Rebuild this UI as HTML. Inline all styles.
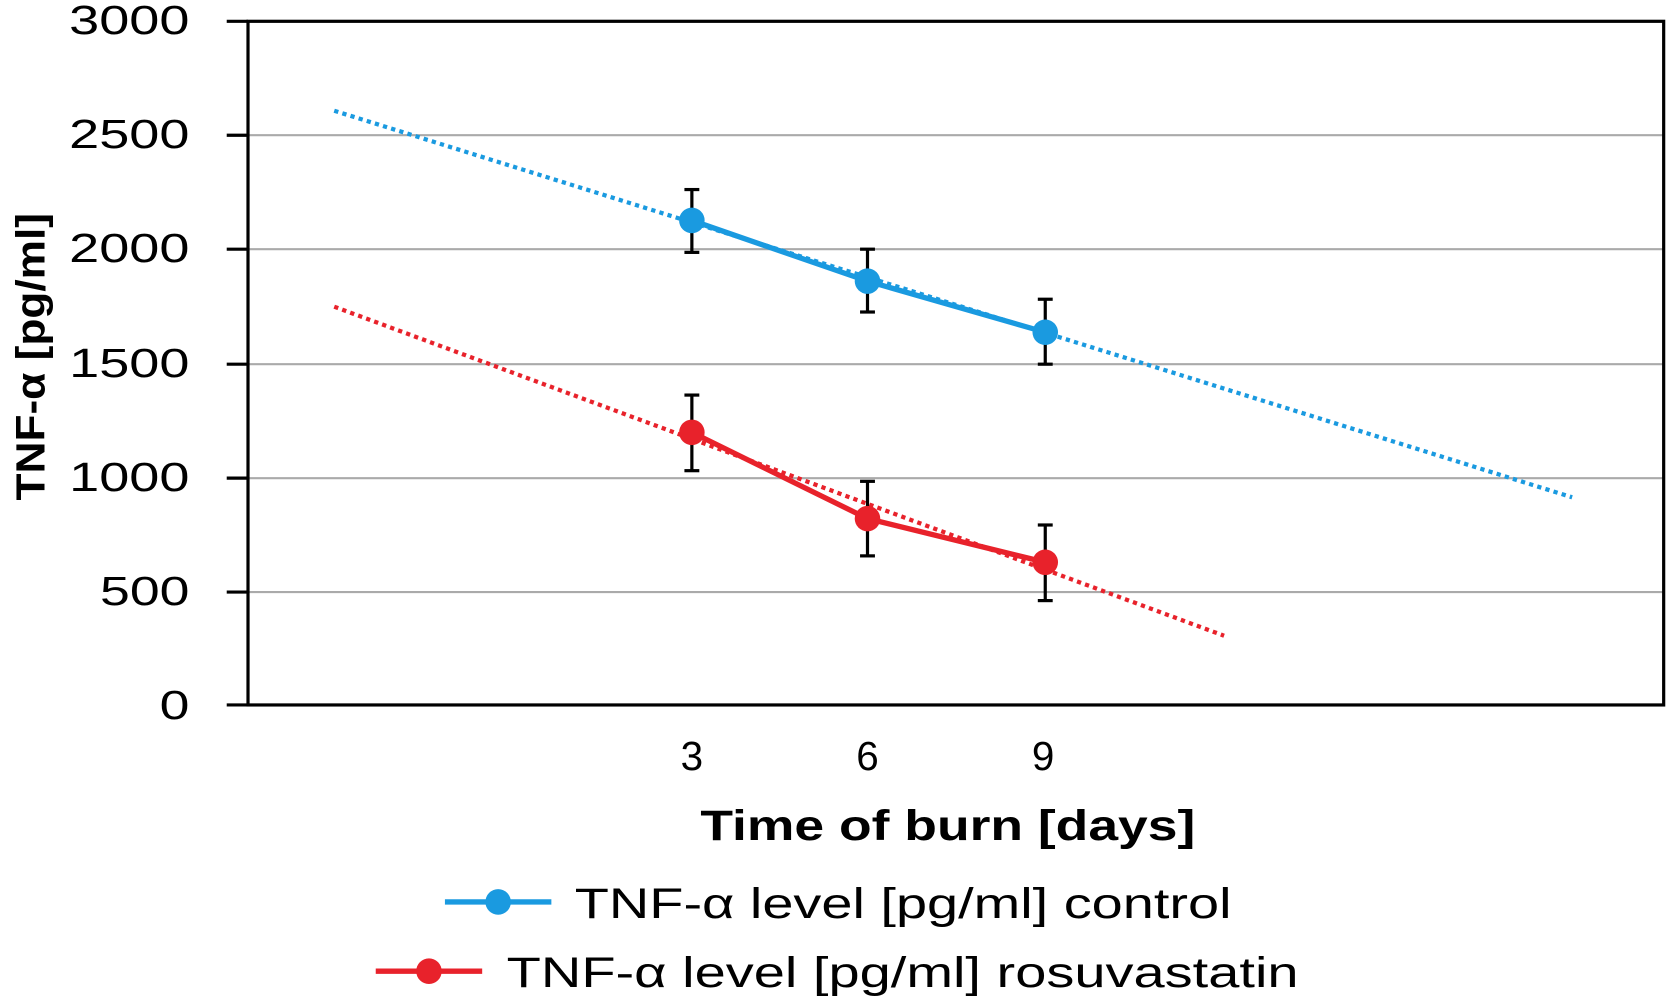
<!DOCTYPE html>
<html><head><meta charset="utf-8"><style>
html,body{margin:0;padding:0;background:#fff;}
svg{display:block;}
text{font-family:"Liberation Sans","DejaVu Sans",sans-serif;fill:#000;}
</style></head><body>
<svg width="1669" height="1001" viewBox="0 0 1568 940" preserveAspectRatio="none" xmlns="http://www.w3.org/2000/svg">
<g stroke="#aaa" stroke-width="2">
<line x1="233" y1="127" x2="1563" y2="127"/>
<line x1="233" y1="234" x2="1563" y2="234"/>
<line x1="233" y1="342" x2="1563" y2="342"/>
<line x1="233" y1="449" x2="1563" y2="449"/>
<line x1="233" y1="556" x2="1563" y2="556"/>
</g>
<rect x="233" y="20" width="1330" height="642" fill="none" stroke="#000" stroke-width="3"/>
<g stroke="#000" stroke-width="3">
<line x1="213" y1="20" x2="233" y2="20"/>
<line x1="213" y1="127" x2="233" y2="127"/>
<line x1="213" y1="234" x2="233" y2="234"/>
<line x1="213" y1="342" x2="233" y2="342"/>
<line x1="213" y1="449" x2="233" y2="449"/>
<line x1="213" y1="556" x2="233" y2="556"/>
<line x1="213" y1="662" x2="233" y2="662"/>
</g>
<g font-size="38" lengthAdjust="spacingAndGlyphs">
<text x="65" y="32" textLength="113" lengthAdjust="spacingAndGlyphs">3000</text>
<text x="65" y="139" textLength="113" lengthAdjust="spacingAndGlyphs">2500</text>
<text x="65" y="246" textLength="113" lengthAdjust="spacingAndGlyphs">2000</text>
<text x="65" y="354" textLength="113" lengthAdjust="spacingAndGlyphs">1500</text>
<text x="65" y="461" textLength="113" lengthAdjust="spacingAndGlyphs">1000</text>
<text x="94" y="568" textLength="84" lengthAdjust="spacingAndGlyphs">500</text>
<text x="150" y="675" textLength="28" lengthAdjust="spacingAndGlyphs">0</text>
</g>
<g font-size="38" text-anchor="middle">
<text x="650" y="723">3</text>
<text x="815" y="723">6</text>
<text x="980" y="723">9</text>
</g>
<text x="658" y="789" font-size="40" font-weight="bold" textLength="465" lengthAdjust="spacingAndGlyphs">Time of burn [days]</text>
<text transform="translate(42,470) rotate(-90)" font-size="38" font-weight="bold" textLength="270" lengthAdjust="spacingAndGlyphs">TNF-α [pg/ml]</text>
<line x1="314" y1="104" x2="1477" y2="467" stroke="#1a9ae0" stroke-width="4" stroke-dasharray="4,4"/>
<line x1="314" y1="288" x2="1150" y2="597" stroke="#e8222b" stroke-width="4" stroke-dasharray="4,4"/>
<g stroke="#000" stroke-width="3">
<line x1="650" y1="178" x2="650" y2="237"/><line x1="643" y1="178" x2="657" y2="178"/><line x1="643" y1="237" x2="657" y2="237"/>
<line x1="815" y1="234" x2="815" y2="293"/><line x1="808" y1="234" x2="822" y2="234"/><line x1="808" y1="293" x2="822" y2="293"/>
<line x1="982" y1="281" x2="982" y2="342"/><line x1="975" y1="281" x2="989" y2="281"/><line x1="975" y1="342" x2="989" y2="342"/>
<line x1="650" y1="371" x2="650" y2="442"/><line x1="643" y1="371" x2="657" y2="371"/><line x1="643" y1="442" x2="657" y2="442"/>
<line x1="815" y1="452" x2="815" y2="522"/><line x1="808" y1="452" x2="822" y2="452"/><line x1="808" y1="522" x2="822" y2="522"/>
<line x1="982" y1="493" x2="982" y2="564"/><line x1="975" y1="493" x2="989" y2="493"/><line x1="975" y1="564" x2="989" y2="564"/>
</g>
<polyline points="650,207 815,264 982,312" fill="none" stroke="#1a9ae0" stroke-width="5"/>
<polyline points="650,406 815,487 982,528" fill="none" stroke="#e8222b" stroke-width="5"/>
<g fill="#1a9ae0"><circle cx="650" cy="207" r="12"/><circle cx="815" cy="264" r="12"/><circle cx="982" cy="312" r="12"/></g>
<g fill="#e8222b"><circle cx="650" cy="406" r="12"/><circle cx="815" cy="487" r="12"/><circle cx="982" cy="528" r="12"/></g>
<line x1="418" y1="847" x2="518" y2="847" stroke="#1a9ae0" stroke-width="5"/>
<circle cx="468" cy="847" r="12" fill="#1a9ae0"/>
<text x="540" y="862" font-size="40" textLength="617" lengthAdjust="spacingAndGlyphs">TNF-α level [pg/ml] control</text>
<line x1="353" y1="912" x2="453" y2="912" stroke="#e8222b" stroke-width="5"/>
<circle cx="403" cy="912" r="12" fill="#e8222b"/>
<text x="476" y="927" font-size="40" textLength="744" lengthAdjust="spacingAndGlyphs">TNF-α level [pg/ml] rosuvastatin</text>
</svg>
</body></html>
